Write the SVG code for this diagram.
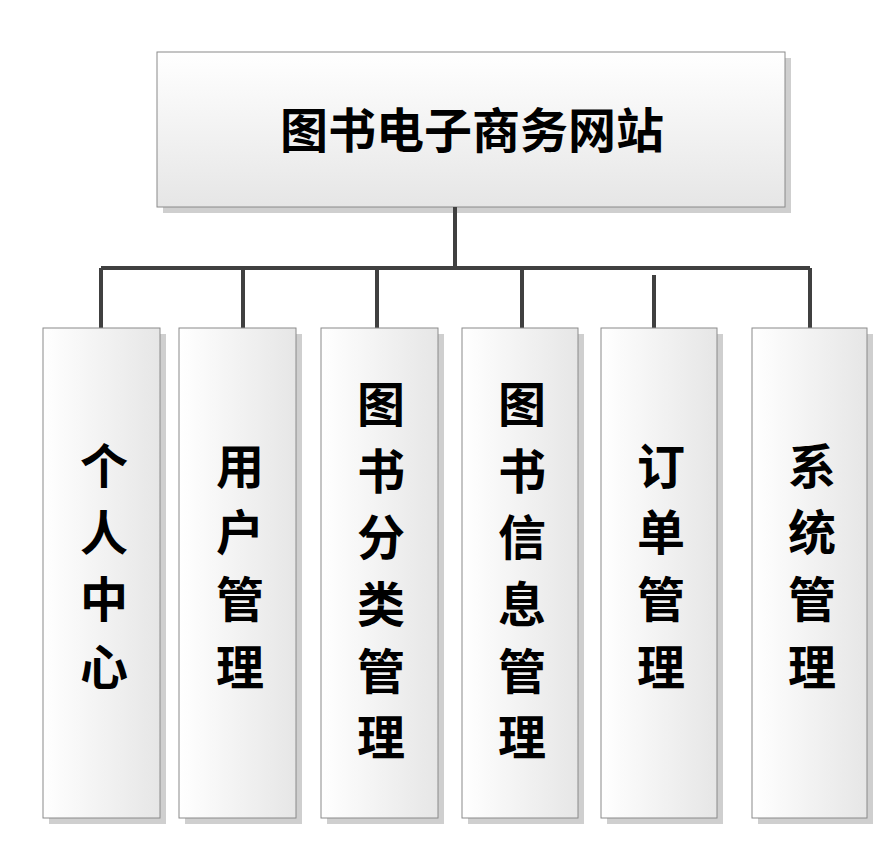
<svg xmlns="http://www.w3.org/2000/svg" width="892" height="851" viewBox="0 0 892 851">
<defs>
<linearGradient id="g" x1="0" y1="0" x2="0" y2="1"><stop offset="0" stop-color="#ffffff"/><stop offset="1" stop-color="#e6e6e6"/></linearGradient>
<linearGradient id="gv" x1="0" y1="0" x2="1" y2="0"><stop offset="0" stop-color="#ffffff"/><stop offset="1" stop-color="#e6e6e6"/></linearGradient>
<style>
.b{fill:url(#g);stroke:#8a8a8a;stroke-width:1}
.v{fill:url(#gv);stroke:#8a8a8a;stroke-width:1}
.s{fill:#cfcfcf}
.t{font-family:"Liberation Sans","Noto Sans CJK SC",sans-serif;font-weight:bold;font-size:48px;text-anchor:middle;fill:#000}
.c{stroke:#404040;stroke-width:4;fill:none}
</style>
</defs>
<rect width="892" height="851" fill="#fff"/>
<g id="root"><rect class="s" x="163" y="58" width="628" height="155"/><rect class="b" x="157" y="52" width="628" height="155"/><text class="t" x="472" y="148">图书电子商务网站</text></g>
<g id="connectors">
<path class="c" d="M455 207V268M101 268H810M101 268V328M243 268V333M377 268V333M522 268V333M654 275V342M810 268V328"/>
</g>
<g id="n1"><rect class="s" x="49" y="334" width="117" height="490"/><rect class="v" x="43" y="328" width="117" height="490"/><text class="t" x="104"><tspan x="104" y="484">个</tspan><tspan x="104" y="550">人</tspan><tspan x="104" y="617">中</tspan><tspan x="104" y="685">心</tspan></text></g>
<g id="n2"><rect class="s" x="185" y="334" width="117" height="490"/><rect class="v" x="179" y="328" width="117" height="490"/><text class="t"><tspan x="240" y="484">用</tspan><tspan x="240" y="550">户</tspan><tspan x="240" y="617">管</tspan><tspan x="240" y="685">理</tspan></text></g>
<g id="n3"><rect class="s" x="327" y="334" width="117" height="490"/><rect class="v" x="321" y="328" width="117" height="490"/><text class="t"><tspan x="381" y="422">图</tspan><tspan x="381" y="489">书</tspan><tspan x="381" y="555">分</tspan><tspan x="381" y="622">类</tspan><tspan x="381" y="689">管</tspan><tspan x="381" y="755">理</tspan></text></g>
<g id="n4"><rect class="s" x="468" y="334" width="116" height="490"/><rect class="v" x="462" y="328" width="116" height="490"/><text class="t"><tspan x="522" y="422">图</tspan><tspan x="522" y="489">书</tspan><tspan x="522" y="555">信</tspan><tspan x="522" y="622">息</tspan><tspan x="522" y="689">管</tspan><tspan x="522" y="755">理</tspan></text></g>
<g id="n5"><rect class="s" x="607" y="334" width="116" height="490"/><rect class="v" x="601" y="328" width="116" height="490"/><text class="t"><tspan x="661" y="484">订</tspan><tspan x="661" y="550">单</tspan><tspan x="661" y="617">管</tspan><tspan x="661" y="685">理</tspan></text></g>
<g id="n6"><rect class="s" x="758" y="334" width="115" height="490"/><rect class="v" x="752" y="328" width="115" height="490"/><text class="t"><tspan x="812" y="484">系</tspan><tspan x="812" y="550">统</tspan><tspan x="812" y="617">管</tspan><tspan x="812" y="685">理</tspan></text></g>
</svg>
